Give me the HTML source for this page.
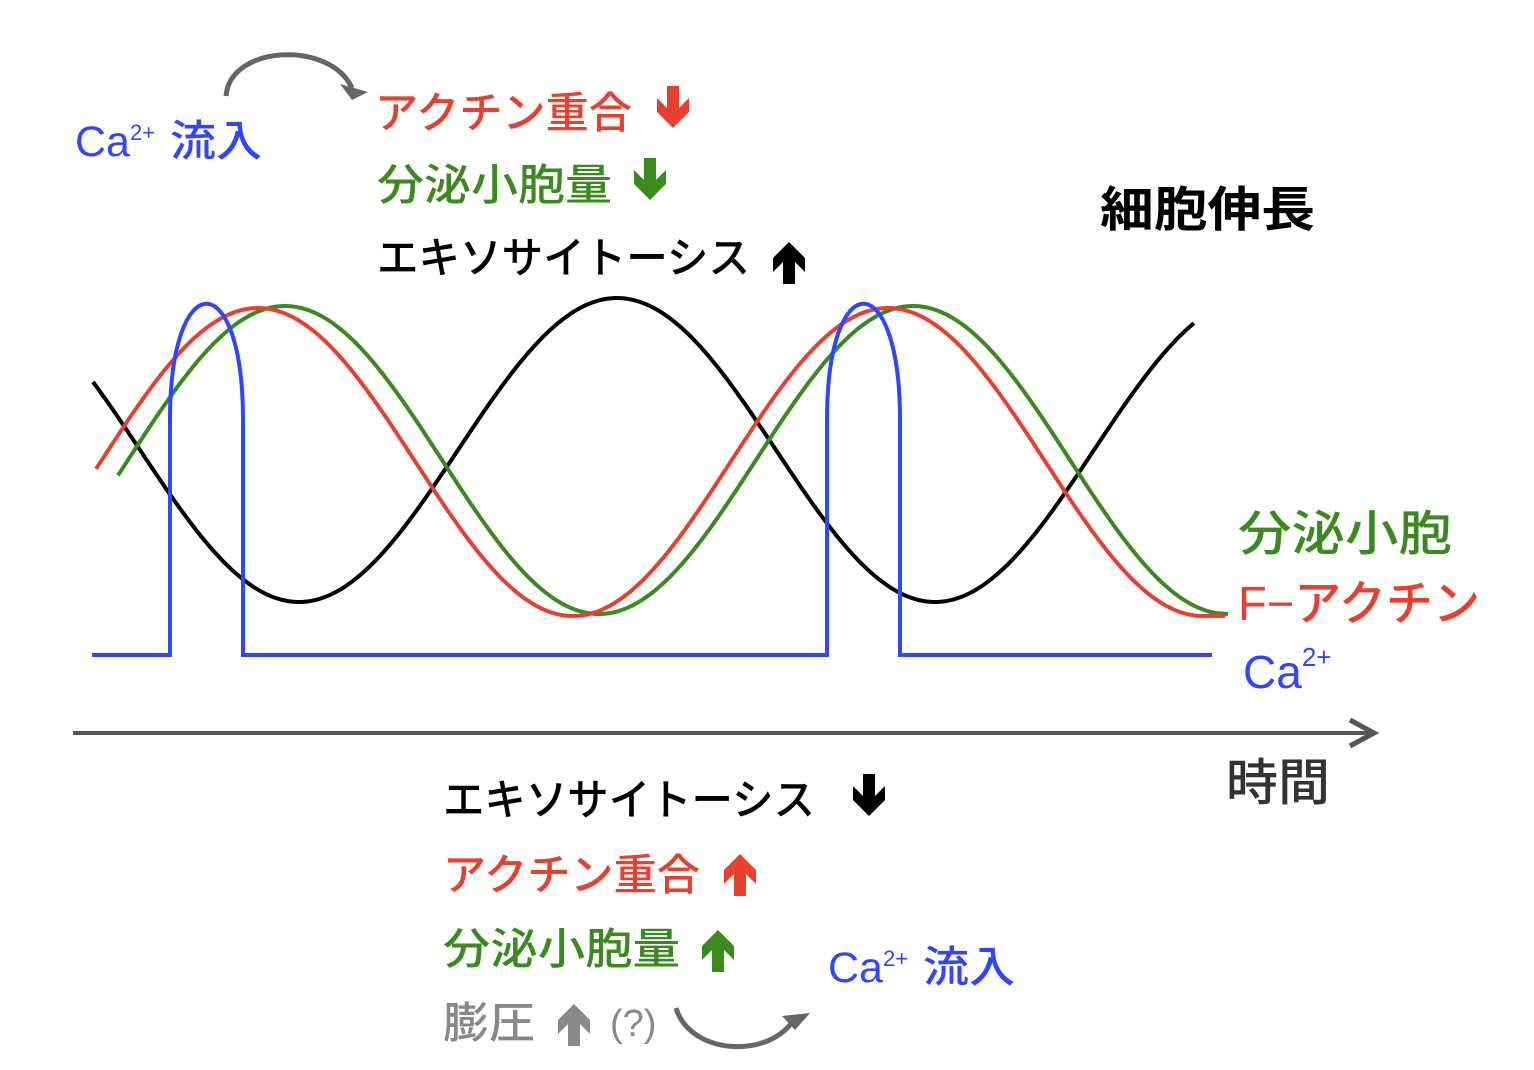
<!DOCTYPE html>
<html><head><meta charset="utf-8"><style>
html,body{margin:0;padding:0;background:#fff;width:1534px;height:1070px;overflow:hidden}
svg text{font-family:"Liberation Sans","Noto Sans CJK JP",sans-serif}
</style></head><body>
<svg id="s" width="1534" height="1070" viewBox="0 0 1534 1070" xmlns="http://www.w3.org/2000/svg">
<g fill="none" stroke-width="4">
<polyline id="blk" stroke="#000"/>
<polyline id="grn" stroke="#3a8a1e"/>
<polyline id="red" stroke="#e8402e"/>
<path stroke="#2f45ff" d="M92,655 L170,655 L170,420 C170,265 243,265 243,420 L243,655 L827,655 L827,420 C827,265 900,265 900,420 L900,655 L1212,655"/>
</g>
<line x1="73" y1="733" x2="1372" y2="733" stroke="#555" stroke-width="4"/>
<polyline points="1350,720 1374,733 1350,746" fill="none" stroke="#555" stroke-width="5"/>
<path d="M226,96 C230,45 330,40 352,88" fill="none" stroke="#666" stroke-width="5"/>
<polygon points="340,84 368,92 352,100" fill="#666"/>
<path d="M676,1008 C690,1055 770,1060 795,1018" fill="none" stroke="#666" stroke-width="5"/>
<polygon points="782,1016 810,1013 795,1030" fill="#666"/>
<g font-size="43" font-weight="500">
<text x="75" y="156" fill="#2f45ff">Ca<tspan font-size="22" dy="-16">2+</tspan><tspan dy="16" x="170" textLength="92" lengthAdjust="spacingAndGlyphs">流入</tspan></text>
<text x="375" y="128" fill="#e8402e" textLength="257" lengthAdjust="spacingAndGlyphs">アクチン重合</text>
<text x="377" y="200" fill="#3a8a1e" textLength="235" lengthAdjust="spacingAndGlyphs">分泌小胞量</text>
<text x="377" y="273" fill="#000" textLength="373" lengthAdjust="spacingAndGlyphs">エキソサイトーシス</text>
<text x="1100" y="226" fill="#000" font-size="48" font-weight="bold" textLength="215" lengthAdjust="spacingAndGlyphs">細胞伸長</text>
<text x="1238" y="550" fill="#3a8a1e" font-size="48" textLength="214" lengthAdjust="spacingAndGlyphs">分泌小胞</text>
<text x="1238" y="620" fill="#e8402e" font-size="48" textLength="242" lengthAdjust="spacingAndGlyphs">F−アクチン</text>
<text x="1243" y="688" fill="#2f45ff" font-size="46">Ca<tspan font-size="26" dy="-22">2+</tspan></text>
<text x="1226" y="800" fill="#333" font-size="50" textLength="104" lengthAdjust="spacingAndGlyphs">時間</text>
<text x="443" y="815" fill="#000" textLength="372" lengthAdjust="spacingAndGlyphs">エキソサイトーシス</text>
<text x="443" y="890" fill="#e8402e" textLength="257" lengthAdjust="spacingAndGlyphs">アクチン重合</text>
<text x="443" y="964" fill="#3a8a1e" textLength="237" lengthAdjust="spacingAndGlyphs">分泌小胞量</text>
<text x="443" y="1038" fill="#888" textLength="92" lengthAdjust="spacingAndGlyphs">膨圧</text>
<text x="610" y="1036" fill="#888" font-size="38">(?)</text>
<text x="828" y="982" fill="#2f45ff">Ca<tspan font-size="22" dy="-16">2+</tspan><tspan dy="16" x="923" textLength="92" lengthAdjust="spacingAndGlyphs">流入</tspan></text>
</g>
<defs>
<polygon id="dn" points="-6,-22 6,-22 6,0 16,-10 16,4 0,20 -16,4 -16,-10 -6,0"/>
</defs>
<use href="#dn" x="673" y="108" fill="#e8402e"/>
<use href="#dn" x="650" y="180" fill="#3a8a1e"/>
<use href="#dn" transform="translate(789,262) rotate(180)" fill="#000"/>
<use href="#dn" x="869" y="796" fill="#000"/>
<use href="#dn" transform="translate(740,874) rotate(180)" fill="#e8402e"/>
<use href="#dn" transform="translate(718,950) rotate(180)" fill="#3a8a1e"/>
<use href="#dn" transform="translate(574,1024) rotate(180)" fill="#888"/>
</svg>
<script>
function pts(x0,x1,f){var a=[];for(var x=x0;x<=x1;x+=3)a.push(x+","+f(x).toFixed(1));return a.join(" ");}
document.getElementById('blk').setAttribute('points',pts(93,1195,function(x){return 450-152*Math.cos(2*Math.PI*(x-617)/636);}));
document.getElementById('red').setAttribute('points',pts(96,1202,function(x){return 462-154*Math.cos(2*Math.PI*(x-258)/630);})+" 1225,616");
document.getElementById('grn').setAttribute('points',pts(118,1217,function(x){return 460-154*Math.cos(2*Math.PI*(x-285)/628);})+" 1228,614");
</script>
</body></html>
